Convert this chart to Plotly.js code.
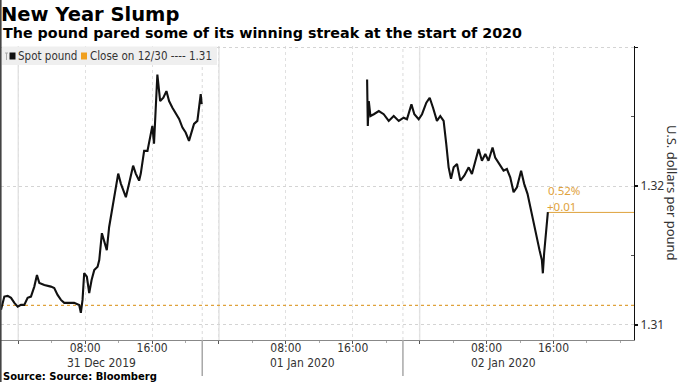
<!DOCTYPE html>
<html>
<head>
<meta charset="utf-8">
<script src="https://cdn.plot.ly/plotly-3.0.1.min.js"></script>
<style>html,body{margin:0;padding:0;background:#fff;}#chart{width:680px;height:382px;}</style>
</head>
<body>
<div id="chart"></div>
<script>
// ---- data ----
const spotTimes1 = [
  '2019-12-30 21:56','2019-12-30 22:08','2019-12-30 22:20','2019-12-30 22:44','2019-12-30 23:08','2019-12-30 23:32','2019-12-30 23:56',
  '2019-12-31 00:19','2019-12-31 00:43','2019-12-31 01:07','2019-12-31 01:31','2019-12-31 01:55','2019-12-31 02:14','2019-12-31 02:31','2019-12-31 03:07','2019-12-31 03:54','2019-12-31 04:18',
  '2019-12-31 04:42','2019-12-31 05:06','2019-12-31 05:30','2019-12-31 05:54','2019-12-31 06:41','2019-12-31 07:17','2019-12-31 07:29','2019-12-31 07:41','2019-12-31 07:53','2019-12-31 08:12',
  '2019-12-31 08:29','2019-12-31 08:46','2019-12-31 09:05','2019-12-31 09:29','2019-12-31 09:41','2019-12-31 10:00','2019-12-31 10:16','2019-12-31 10:35','2019-12-31 10:52','2019-12-31 11:16',
  '2019-12-31 11:40','2019-12-31 11:57','2019-12-31 12:16','2019-12-31 12:35','2019-12-31 12:52','2019-12-31 13:15','2019-12-31 13:44','2019-12-31 14:03','2019-12-31 14:27','2019-12-31 14:39',
  '2019-12-31 15:03','2019-12-31 15:27','2019-12-31 15:46','2019-12-31 16:02','2019-12-31 16:14','2019-12-31 16:26','2019-12-31 16:38','2019-12-31 16:58','2019-12-31 17:21','2019-12-31 17:43',
  '2019-12-31 18:02','2019-12-31 18:26','2019-12-31 18:50','2019-12-31 19:14','2019-12-31 19:38','2019-12-31 20:01','2019-12-31 20:25','2019-12-31 20:42','2019-12-31 21:01','2019-12-31 21:25',
  '2019-12-31 21:42','2019-12-31 21:49','2019-12-31 21:56'
];
const spotValues1 = [
  1.31108,1.31158,1.31203,1.31208,1.31194,1.31158,1.31131,
  1.31143,1.31143,1.31194,1.31203,1.31275,1.31358,1.31301,1.31287,1.31275,1.31265,
  1.31215,1.31179,1.31158,1.31158,1.31158,1.31143,1.31086,1.31179,1.31373,1.31346,
  1.31229,1.31323,1.31394,1.31418,1.31466,1.31660,1.31609,1.31538,1.31705,1.31848,
  1.31968,1.32090,1.32018,1.31968,1.31920,1.32018,1.32147,1.32090,1.32039,1.32090,
  1.32254,1.32254,1.32350,1.32434,1.32305,1.32613,1.32804,1.32613,1.32637,1.32685,
  1.32613,1.32565,1.32520,1.32484,1.32422,1.32386,1.32326,1.32386,1.32448,1.32470,
  1.32591,1.32663,1.32591
];
const spotTimes2 = [
  '2020-01-01 17:43','2020-01-01 17:48','2020-01-01 17:55','2020-01-01 18:07','2020-01-01 18:31','2020-01-01 19:07','2020-01-01 19:42','2020-01-01 20:18','2020-01-01 20:54','2020-01-01 21:30',
  '2020-01-01 22:05','2020-01-01 22:29','2020-01-01 23:01','2020-01-01 23:22','2020-01-01 23:53',
  '2020-01-02 00:17','2020-01-02 00:48','2020-01-02 01:12','2020-01-02 01:36','2020-01-02 02:04','2020-01-02 02:28','2020-01-02 02:52','2020-01-02 03:11','2020-01-02 03:28','2020-01-02 03:45',
  '2020-01-02 04:04','2020-01-02 04:28','2020-01-02 04:52','2020-01-02 05:20','2020-01-02 05:52','2020-01-02 06:15','2020-01-02 06:39','2020-01-02 07:03','2020-01-02 07:27','2020-01-02 07:51',
  '2020-01-02 08:14','2020-01-02 08:43','2020-01-02 09:02','2020-01-02 09:34','2020-01-02 10:02','2020-01-02 10:26','2020-01-02 10:50','2020-01-02 11:14','2020-01-02 11:38','2020-01-02 12:08',
  '2020-01-02 12:30','2020-01-02 12:54','2020-01-02 13:18','2020-01-02 13:37','2020-01-02 14:01','2020-01-02 14:20','2020-01-02 14:37','2020-01-02 14:44','2020-01-02 14:53','2020-01-02 15:08',
  '2020-01-02 15:20'
];
const spotValues2 = [
  1.32768,1.32434,1.32613,1.32505,1.32518,1.32541,1.32518,1.32470,1.32505,1.32470,
  1.32493,1.32482,1.32589,1.32518,1.32482,
  1.32518,1.32601,1.32637,1.32565,1.32470,1.32505,1.32470,1.32303,1.32135,1.32052,
  1.32135,1.32159,1.32039,1.32075,1.32135,1.32087,1.32183,1.32267,1.32183,1.32231,
  1.32183,1.32278,1.32206,1.32159,1.32111,1.32123,1.32063,1.31956,1.31991,1.32111,
  1.32016,1.31944,1.31824,1.31753,1.31633,1.31538,1.31466,1.31371,1.31514,1.31681,
  1.31812
];
const closeValue = 1.3114;          // close on 12/30
const lastValue = 1.3181;           // last spot value
const changeLabels = ['0.52%', '+0.01'];
const yTickVals = [1.31, 1.32, 1.33];
const yTickText = ['1.31', '1.32', ''];
const days = ['2019-12-31', '2020-01-01', '2020-01-02'];
const dayLabels = ['31 Dec 2019', '01 Jan 2020', '02 Jan 2020'];
const hourTicks = ['00:00', '08:00', '16:00'];
const hourTickText = ['', '08:00', '16:00'];
const separators = ['2019-12-31 22:00', '2020-01-01 22:00'];
const xRange = ['2019-12-30 21:56', '2020-01-03 01:38'];
const yRange = [1.3089, 1.3301];

// ---- layout helpers ----
const W = 680, H = 382, ML = 1, MR = 46, MT = 46, MB = 42;
const PW = W - ML - MR, PH = H - MT - MB;
const px = x => (x - ML) / PW;
const py = y => (H - MB - y) / PH;

const narrow = '"Liberation Sans Narrow", "DejaVu Sans Condensed", "Arial Narrow", sans-serif';
const bold = '"DejaVu Sans", Verdana, sans-serif';
const orange = '#dfa23c';

const xTickVals = [], xTickText = [];
days.forEach(d => hourTicks.forEach((h, i) => { xTickVals.push(d + ' ' + h); xTickText.push(hourTickText[i]); }));

const spotX = spotTimes1.concat(['2020-01-01 06:00'], spotTimes2);
const spotY = spotValues1.concat([null], spotValues2);

const traces = [
  { x: [xRange[0], xRange[1]], y: [closeValue, closeValue], mode: 'lines',
    line: { color: orange, width: 1.2, dash: 'dot' }, hoverinfo: 'skip', showlegend: false },
  { x: [spotTimes2[spotTimes2.length - 1], xRange[1]], y: [lastValue, lastValue], mode: 'lines',
    line: { color: orange, width: 1 }, hoverinfo: 'skip', showlegend: false },
  { x: spotX, y: spotY, mode: 'lines', connectgaps: false,
    line: { color: '#111', width: 2.1 }, showlegend: false }
];

const shapes = [];
// solid light day lines at 00:00
days.forEach(d => shapes.push({ type: 'line', xref: 'x', yref: 'paper', x0: d + ' 00:00', x1: d + ' 00:00', y0: 0, y1: 1,
  line: { color: '#e4e4e4', width: 1.5 }, layer: 'below' }));
// separators: dotted inside the plot, solid below the axis
separators.forEach(s => {
  shapes.push({ type: 'line', xref: 'x', yref: 'paper', x0: s, x1: s, y0: 0, y1: 1, line: { color: '#dadada', width: 1, dash: 'dot' }, layer: 'below' });
  shapes.push({ type: 'line', xref: 'x', yref: 'paper', x0: s, x1: s, y0: 0, y1: py(376), line: { color: '#a8a8a8', width: 1.5 } });
});
// left border
shapes.push({ type: 'line', xref: 'paper', yref: 'paper', x0: px(0.8), x1: px(0.8), y0: py(0), y1: py(382), line: { color: '#444', width: 1.6 } });
// legend box
shapes.push({ type: 'rect', xref: 'paper', yref: 'paper', x0: px(2), x1: px(217), y0: py(46.5), y1: py(65), fillcolor: '#efefef', line: { width: 0 } });
shapes.push({ type: 'rect', xref: 'paper', yref: 'paper', x0: px(9.5), x1: px(15.5), y0: py(52.5), y1: py(59.5), fillcolor: '#111', line: { width: 0 } });
shapes.push({ type: 'rect', xref: 'paper', yref: 'paper', x0: px(81), x1: px(87), y0: py(52.5), y1: py(59.5), fillcolor: '#f0a020', line: { width: 0 } });
shapes.push({ type: 'line', xref: 'paper', yref: 'paper', x0: px(6.5), x1: px(6.5), y0: py(53), y1: py(60), line: { color: '#aaa', width: 1 } });
shapes.push({ type: 'line', xref: 'paper', yref: 'paper', x0: px(5), x1: px(8), y0: py(53), y1: py(53), line: { color: '#aaa', width: 1 } });

const annotations = [
  { xref: 'paper', yref: 'paper', x: px(1), y: py(33), xanchor: 'left', yanchor: 'middle', showarrow: false,
    text: '<b>The pound pared some of its winning streak at the start of 2020</b>', font: { family: bold, size: 14.3, color: '#000' } },
  { xref: 'paper', yref: 'paper', x: px(16), y: py(56.5), xanchor: 'left', yanchor: 'middle', showarrow: false,
    text: 'Spot pound', font: { family: narrow, size: 11.5, color: '#333' } },
  { xref: 'paper', yref: 'paper', x: px(88), y: py(56.5), xanchor: 'left', yanchor: 'middle', showarrow: false,
    text: 'Close on 12/30 ---- 1.31', font: { family: narrow, size: 11.5, color: '#333' } },
  { xref: 'paper', yref: 'paper', x: px(672), y: py(193), xanchor: 'center', yanchor: 'middle', showarrow: false, textangle: 90,
    text: 'U.S. dollars per pound', font: { family: '"Noto Sans", "DejaVu Sans", sans-serif', size: 13, color: '#333' } },
  { xref: 'x', yref: 'y', x: spotTimes2[spotTimes2.length - 1], y: lastValue, xanchor: 'left', yanchor: 'middle', yshift: 22, xshift: -2, showarrow: false,
    text: changeLabels[0], font: { family: '"Noto Sans", sans-serif', size: 11.5, color: orange } },
  { xref: 'x', yref: 'y', x: spotTimes2[spotTimes2.length - 1], y: lastValue, xanchor: 'left', yanchor: 'middle', yshift: 6, xshift: -3, showarrow: false,
    text: changeLabels[1], font: { family: '"Noto Sans", sans-serif', size: 11.5, color: orange } },
  { xref: 'paper', yref: 'paper', x: px(1), y: py(376.5), xanchor: 'left', yanchor: 'middle', showarrow: false,
    text: '<b>Source: Source: Bloomberg</b>', font: { family: bold, size: 10, color: '#000' } }
];
days.forEach((d, i) => annotations.push({ xref: 'x', yref: 'paper', x: d + ' 10:00', y: py(362.5), xanchor: 'center', yanchor: 'middle', showarrow: false,
  text: dayLabels[i], font: { family: narrow, size: 12, color: '#333' } }));

const layout = {
  width: W, height: H,
  margin: { l: ML, r: MR, t: MT, b: MB, pad: 0 },
  paper_bgcolor: '#fff', plot_bgcolor: '#fff',
  title: { text: '<b>New Year Slump</b>', x: px(1), xref: 'paper', xanchor: 'left', y: 1 - 14 / H, yref: 'container', yanchor: 'middle',
    font: { family: bold, size: 19.5, color: '#000' } },
  xaxis: {
    type: 'date', range: xRange, tickmode: 'array', tickvals: xTickVals, ticktext: xTickText,
    ticks: 'outside', ticklen: 3, tickcolor: '#555', tickwidth: 1, ticklabelstandoff: -6,
    showgrid: true, gridcolor: '#e0e0e0', griddash: 'dot', gridwidth: 1,
    showline: true, linecolor: '#888', linewidth: 1, zeroline: false,
    tickfont: { family: narrow, size: 12, color: '#333' },
    minor: { dtick: 4 * 3600000, ticks: 'outside', ticklen: 2, tickcolor: '#aaa', showgrid: false },
    fixedrange: true
  },
  yaxis: {
    side: 'right', range: yRange, tickmode: 'array', tickvals: yTickVals, ticktext: yTickText,
    ticks: 'outside', ticklen: 3, tickcolor: '#111', tickwidth: 1.5,
    showgrid: true, gridcolor: '#d4d4d4', griddash: 'dot', gridwidth: 1,
    showline: true, linecolor: '#111', linewidth: 1, zeroline: false,
    tickfont: { family: '"Noto Sans", "DejaVu Sans", sans-serif', size: 12, color: '#333' },
    minor: { tickvals: [1.315, 1.325], ticks: 'inside', ticklen: 3, tickcolor: '#555', showgrid: false },
    fixedrange: true
  },
  shapes: shapes,
  annotations: annotations,
  showlegend: false
};

Plotly.newPlot('chart', traces, layout, { displayModeBar: false, staticPlot: true });
</script>
</body>
</html>
